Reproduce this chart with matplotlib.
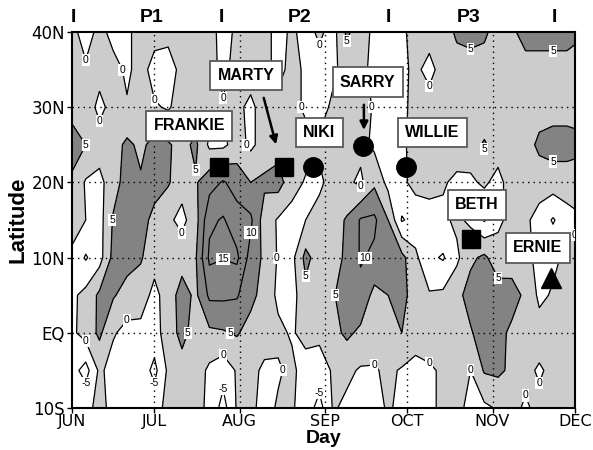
import numpy as np
import matplotlib.pyplot as plt

plt.rcParams['axes.unicode_minus'] = False
plt.rcParams['font.family'] = ['Liberation Sans', 'DejaVu Sans']

# grid: 5-day columns from 1 Jun (day 0) to 1 Dec (day 183)
days = list(range(0, 181, 5)) + [183]
lats = [40, 35, 30, 25, 20, 15, 10, 5, 0, -5, -10]

v40n = [2, -3, 2, -2, -1, 2, 2, 2, 2, 2, 2, -2, 1, 2, 2, -2, 1, -2, 1, -2,
        6, 2, -1, -3, -1, 2, 2, 2, 6, 7, 6, 2.5, 4, 7, 7, 7, 7, 6]
v35n = [2, 1, 2, 2, -1, 2, -2, -3, 2, 2, 2, -1.5, 2, 2, 2, -2, 2, -1, -2, -1,
        2, 1, -1, -3, -1, 1, -1.5, 2, 2.5, 2.5, 2.5, 2.5, 3, 3, 3, 3, 3, 3]
v30n = [3, 3, -1.5, 2, 0.5, 1, 0.5, -0.5, 2, 2, 2, 0.5, 1, -1, 2, 2, 2, -1, -2, 1,
        2, 2, -0.5, -3, -1.5, 2, 2, 2, 2, 2, 2, 2.5, 2.5, 2.5, 3, 3, 3, 3]
v25n = [7.5, 5, 2.5, 3, 6, 4, 6.5, 5.5, 3.5, 6, -1, -1, 2, -1, 2, 3, 2, 2, 1, 1,
        2, 1.5, -1, -2.5, -1, 2, 2.5, 2.5, 2.5, 3, 5.5, 3, 4.5, 3, 6, 7, 7, 6.5]
v20n = [4, -0.5, -1.5, 3, 7, 5.5, 7, 5.5, 2, 4.5, 8, 10.5, 8, 5, 6, 7, 2, -0.5, -1, 2,
        1, -1, 4, -1.5, -1, 1.5, 2, 0.5, -1, -1, 1, -2, 3, 5, 2.5, 2.5, 2.5, 2.5]
v15n = [2, 0, -2, 5.5, 7.5, 7, 3.5, 1, -1.5, 3, 14, 15.5, 12, 11, 2.5, -0.5, -2, 0, 2, 3,
        5.5, 10.5, 11, 5, -5.5, -3, -2.5, -1, 1, -1, -5.5, -1, 1.5, 1, -2, -5.5, -2, -1]
v10n = [-1, -5.5, -2, 6.5, 7, 5.5, 2, 2, 3, 4.5, 16, 15.2, 16, 8, 4, -0.5, -1.5, 6.5, 2.5, 3,
        6, 10.5, 9, 6, 6.5, 1, -4, -5.5, -1, 4, 6, 2, 2.5, 1, -1, -1, 1, 1.5]
v05n = [-1, 1.5, 6, 5.5, 3, 2.5, -1.5, 2.5, 7, 4, 11, 11, 10.5, 6.5, 3, -1, -2, 3.5, 1, 4.5,
        8, 8.5, 3.5, 5, 7, 2, 0.5, 1, 3.5, 7, 8, 7.5, 7, 4, -1, 0.5, 4, 2]
v00 = [-1, 2, 6, 0.5, -1.5, -1.5, -2, 2.5, 6.5, 3, 4, 4.5, 5.5, 3, 2.5, 1, -0.5, 1.5, 1, 3.5,
       6, 4, 3, 3, 5, 1.5, 2, 2.5, 3, 4.5, 7.5, 6.5, 4, 2.5, 2, 2.5, 3, 3]
v05s = [-3, -7, 1, -2, -1.5, -2, -6.5, 1, 3, 2.5, -1, -3, 0.5, 1.5, -1, -0.5, 1, -2, -2, 0.5,
        1, -0.5, -0.5, 1, -0.5, -1, -0.5, 0.5, 1, 0, 5.5, 6, 4, 1, -0.5, 1, 2, 2]
v10s = [-2, -1, 1, -1, -1.5, -1.5, -2, 1.5, 2, 1.5, -1, -7, 0.5, 1, -1.5, 0.5, 0.5, -2, -7, 0.5,
        -1, -1, -1.5, 0.5, -1, -1, -1, 1, 1, -1, -1, 0.5, 1, -0.5, 1, 1.5, 2, 2]

field = np.array([v40n, v35n, v30n, v25n, v20n, v15n, v10n, v05n, v00, v05s, v10s])

month_days = [0, 30, 61, 92, 122, 153, 183]
month_names = ['JUN', 'JUL', 'AUG', 'SEP', 'OCT', 'NOV', 'DEC']
lat_ticks = [40, 30, 20, 10, 0, -10]
lat_names = ['40N', '30N', '20N', '10N', 'EQ', '10S']

period_edges = [0.5, 54.2, 115.3, 175.6]
period_mid = [28.8, 82.9, 144.4]
period_names = ['P1', 'P2', 'P3']

storm_names = ['FRANKIE', 'MARTY', 'NIKI', 'SARRY', 'WILLIE', 'BETH', 'ERNIE']
storm_day = [53.5, 77.1, 87.6, 105.8, 121.6, 145.3, 174.2]
storm_lat = [22.0, 22.0, 22.1, 24.9, 22.0, 12.5, 7.3]
storm_mark = ['s', 's', 'o', 'o', 'o', 's', '^']
box_day = [42.7, 63.3, 90.0, 107.6, 131.1, 147.3, 169.5]
box_lat = [27.5, 34.2, 26.6, 33.35, 26.6, 17.0, 11.3]

fig = plt.figure(figsize=(5.93, 4.5), dpi=100)
ax = fig.add_axes([72 / 593, 42 / 450, 503 / 593, 376 / 450])

ax.contourf(days, lats, field, levels=[-50, 0, 5, 50],
            colors=['white', '#cccccc', '#838383'])
cs = ax.contour(days, lats, field, levels=[-5, 0, 5, 10, 15],
                colors='black', linewidths=0.9, linestyles='solid')
lbls = ax.clabel(cs, fmt='%d', fontsize=7.5, inline=True, inline_spacing=1)
for t in lbls:
    t.set_rotation(0)
    t.set_bbox(dict(boxstyle='square,pad=0.1', fc='white', ec='none'))

# dotted grid
for d in month_days[1:-1]:
    ax.axvline(d, color='black', lw=1, ls=(0, (1, 3)))
for la in lat_ticks[1:-1]:
    ax.axhline(la, color='black', lw=1, ls=(0, (1, 3)))

# storms
boxes = []
for i in range(len(storm_names)):
    ms = 14 if storm_mark[i] != 's' else 13
    ax.plot(storm_day[i], storm_lat[i], marker=storm_mark[i], color='black',
            ms=ms, zorder=5)
    boxes.append(ax.text(box_day[i], box_lat[i], storm_names[i], ha='center', va='center',
                         fontsize=11.5, fontweight='bold', zorder=6,
                         bbox=dict(boxstyle='square,pad=0.45', fc='white', ec='0.35', lw=1.3)))

ax.annotate('', xy=(74.5, 24.7), xytext=(69.5, 31.6),
            arrowprops=dict(arrowstyle='-|>', color='black', lw=1.8, mutation_scale=12), zorder=6)
ax.annotate('', xy=(106.2, 26.6), xytext=(106.2, 30.7),
            arrowprops=dict(arrowstyle='-|>', color='black', lw=1.8, mutation_scale=12), zorder=6)

# periods along the top
tr = ax.get_xaxis_transform()
for d in period_edges:
    ax.text(d, 1.027, 'I', transform=tr, ha='center', va='baseline',
            fontsize=14, fontweight='bold', clip_on=False)
for d, s in zip(period_mid, period_names):
    ax.text(d, 1.027, s, transform=tr, ha='center', va='baseline',
            fontsize=14, fontweight='bold', clip_on=False)

ax.set_xlim(0, 183)
ax.set_ylim(-10, 40)
ax.set_xticks(month_days)
ax.set_xticklabels(month_names, fontfamily='Liberation Sans Narrow', fontsize=11.5)
ax.set_yticks(lat_ticks)
ax.set_yticklabels(lat_names, fontfamily='Liberation Sans Narrow', fontsize=12)
ax.tick_params(length=3.5, width=1, pad=1.5)
ax.tick_params(axis='x', pad=1)
for sp in ax.spines.values():
    sp.set_linewidth(1.5)
ax.set_xlabel('Day', fontsize=14, fontweight='bold')
ax.xaxis.set_label_coords(0.5, -(430 - 408) / 376)
ax.set_ylabel('Latitude', fontsize=16, fontweight='bold', labelpad=2)

# drop contour labels hidden under the name boxes
fig.canvas.draw()
r = fig.canvas.get_renderer()
box_ext = [b.get_bbox_patch().get_window_extent(r) for b in boxes]
for t in lbls:
    e = t.get_window_extent(r)
    if any(e.overlaps(b) for b in box_ext):
        t.remove()

fig.savefig('out.png', dpi=100)
